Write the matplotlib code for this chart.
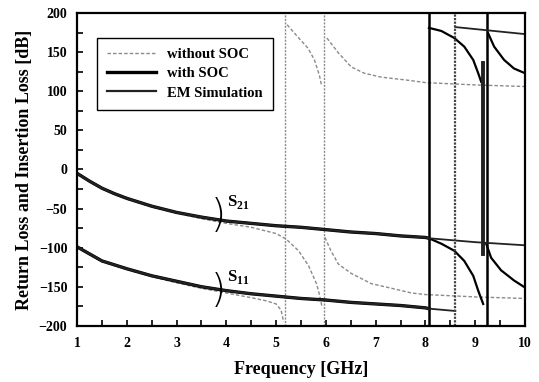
import numpy as np
import matplotlib
matplotlib.use('Agg')
import matplotlib.pyplot as plt

plt.rcParams['font.family'] = ['Liberation Serif', 'DejaVu Serif']
plt.rcParams['font.weight'] = 'bold'
plt.rcParams['mathtext.fontset'] = 'custom'
plt.rcParams['mathtext.rm'] = 'Liberation Serif:bold'
plt.rcParams['mathtext.bf'] = 'Liberation Serif:bold'

# main curves (with SOC / EM simulation overlap below 8 GHz)
freq = [1, 1.25, 1.5, 1.75, 2, 2.5, 3, 3.5, 4, 4.5, 5, 5.5, 6, 6.5, 7, 7.5, 8, 8.07]
s21 = [-5, -15, -24, -31, -37, -47, -55, -61, -66, -69, -72, -74, -77, -80, -82, -85, -87, -88]
s11 = [-99, -108, -117, -122, -127, -136, -143, -150, -155, -159, -162, -165, -167, -170, -172, -174, -177, -178]

# without SOC (dashed grey)
wo_s21_f = [1, 1.5, 2, 2.5, 3, 3.5, 4, 4.5, 5, 5.2, 5.45, 5.65, 5.81, 5.85, 5.92]
wo_s21_v = [-6, -25, -38, -48, -56, -63, -69, -74, -82, -89, -104, -123, -146, -155, -175]
wo_s11_f = [1, 1.5, 2, 2.5, 3, 3.5, 4, 4.5, 4.8, 5.0, 5.1, 5.15]
wo_s11_v = [-100, -118, -128, -137, -145, -152, -158, -164, -168, -172, -180, -195]
wo_top1_f = [5.22, 5.44, 5.64, 5.77, 5.87, 5.91]
wo_top1_v = [185, 169, 155, 140, 120, 108]
wo_top2_f = [6.02, 6.25, 6.51, 6.77, 7.11, 7.65, 8, 9, 10]
wo_top2_v = [168, 149, 131, 123, 118, 114, 111, 108, 106]
wo_bot2_f = [5.98, 6.1, 6.25, 6.51, 6.91, 7.32, 7.72, 8, 9, 10]
wo_bot2_v = [-87, -104, -121, -133, -146, -152, -158, -160, -163, -165]
wo_res = [5.17, 5.97]

# with SOC above 8 GHz
soc_top_f = [8.07, 8.32, 8.58, 8.78, 8.96, 9.06, 9.12]
soc_top_v = [181, 177, 168, 157, 140, 123, 112]
soc_bot_f = [8.07, 8.32, 8.58, 8.78, 8.96, 9.06, 9.16]
soc_bot_v = [-88, -95, -104, -117, -136, -155, -172]
soc_top2_f = [9.26, 9.38, 9.58, 9.78, 10]
soc_top2_v = [174, 157, 140, 129, 123]
soc_bot2_f = [9.22, 9.32, 9.52, 9.78, 10]
soc_bot2_v = [-95, -113, -129, -142, -151]
soc_res = [8.07, 9.24]

# EM simulation above 8 GHz
em_s21_f = [8.07, 9.0, 10]
em_s21_v = [-88, -93, -97]
em_s11_f = [8.07, 8.6]
em_s11_v = [-178, -181]
em_top_f = [8.6, 10]
em_top_v = [182, 173]
em_spike_f = [9.15, 9.15]
em_spike_v = [-108, 136]
em_res = [8.6]

fig = plt.figure(figsize=(5.39, 3.82), dpi=100)
ax = fig.add_axes([0.143, 0.147, 0.831, 0.819])

gcol = '#8a8a8a'
dash = (0, (2.5, 1.5))

ax.plot(wo_s21_f, wo_s21_v, color=gcol, lw=1, ls=dash, label='without SOC')
ax.plot(wo_s11_f, wo_s11_v, color=gcol, lw=1, ls=dash)
ax.plot(wo_top1_f, wo_top1_v, color=gcol, lw=1, ls=dash)
ax.plot(wo_top2_f, wo_top2_v, color=gcol, lw=1, ls=dash)
ax.plot(wo_bot2_f, wo_bot2_v, color=gcol, lw=1, ls=dash)
for f in wo_res:
    ax.axvline(f, color=gcol, lw=1, ls=(0, (1.5, 1)))

ax.plot(freq, s21, color='black', lw=2.4, label='with SOC')
ax.plot(freq, s11, color='black', lw=2.4)
ax.plot(soc_top_f, soc_top_v, color='black', lw=1.6)
ax.plot(soc_bot_f, soc_bot_v, color='black', lw=1.6)
ax.plot(soc_top2_f, soc_top2_v, color='black', lw=1.6)
ax.plot(soc_bot2_f, soc_bot2_v, color='black', lw=1.6)
for f in soc_res:
    ax.axvline(f, color='black', lw=1.8)

ax.plot(freq, s21, color='#222222', lw=1.6, label='EM Simulation')
ax.plot(freq, s11, color='#222222', lw=1.6)
ax.plot(em_s21_f, em_s21_v, color='#222222', lw=1.3)
ax.plot(em_s11_f, em_s11_v, color='#222222', lw=1.3)
ax.plot(em_top_f, em_top_v, color='#222222', lw=1.3)
ax.plot(em_spike_f, em_spike_v, color='#222222', lw=2.8)
for f in em_res:
    ax.axvline(f, color='#444444', lw=1.6, ls=(0, (1, 0.6)))

# brackets and labels
ax.text(3.84, -59, ')', fontsize=28, fontweight='light', family='DejaVu Sans',
        ha='center', va='center')
ax.text(3.84, -155, ')', fontsize=28, fontweight='light', family='DejaVu Sans',
        ha='center', va='center')
ax.text(4.02, -42, r'S$_{21}$', fontsize=12, fontweight='bold', va='center')
ax.text(4.02, -138, r'S$_{11}$', fontsize=12, fontweight='bold', va='center')

ax.set_xlim(1, 10)
ax.set_ylim(-200, 200)
ax.set_xticks(range(1, 11))
ax.set_xticks(np.arange(1, 10.01, 0.5), minor=True)
ax.set_yticks(range(-200, 201, 50))
ax.set_yticks(range(-200, 201, 25), minor=True)
ax.tick_params(axis='both', which='both', direction='in', top=False, right=False,
               labelsize=10, width=1.2)
ax.tick_params(which='major', length=4)
ax.tick_params(which='minor', length=4)
ax.tick_params(axis='x', pad=8)
ax.tick_params(axis='y', pad=7)
for lab in ax.get_xticklabels() + ax.get_yticklabels():
    lab.set_fontweight('bold')
for sp in ax.spines.values():
    sp.set_linewidth(1.6)

ax.set_xlabel('Frequency [GHz]', fontsize=13, fontweight='bold', labelpad=8)
ax.set_ylabel('Return Loss and Insertion Loss [dB]', fontsize=13, fontweight='bold', labelpad=4)

leg = ax.legend(loc='upper left', bbox_to_anchor=(0.045, 0.92), fancybox=False,
                edgecolor='black', framealpha=1, fontsize=10.5, handlelength=3.3,
                borderpad=0.7, labelspacing=0.4, borderaxespad=0)
leg.get_frame().set_linewidth(1)
for t in leg.get_texts():
    t.set_fontweight('bold')

fig.savefig('out.png', dpi=100)
